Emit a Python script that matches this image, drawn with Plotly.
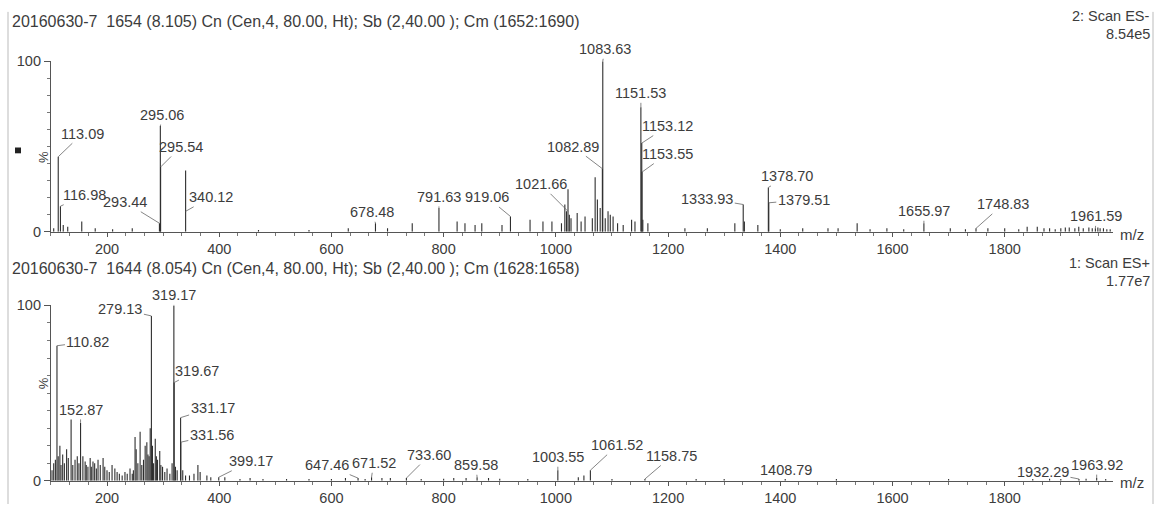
import plotly.graph_objects as go

W, H = 1157, 512

# ---------------- data ----------------
# Top panel: 2: Scan ES-  (m/z, relative intensity %)
top_mz = [105, 113.09, 116.98, 122, 130, 155, 179, 210, 245, 293.44, 295.06, 295.54, 340.12,
          470, 560, 630, 678.48, 700, 744, 791.63, 824, 838, 856, 868, 904, 919.06, 954, 977, 993,
          1010, 1016, 1019, 1021.66, 1024, 1027, 1038, 1045, 1052, 1065, 1070, 1074, 1079, 1082.89,
          1083.63, 1088, 1093, 1097, 1102, 1110, 1120, 1135, 1141, 1151.53, 1153.12, 1153.55, 1155,
          1164, 1230, 1270, 1319, 1333.93, 1336, 1360, 1378.70, 1379.51, 1400, 1440, 1485, 1503,
          1537, 1560, 1590, 1620, 1655.97, 1703, 1730, 1748.83, 1770, 1800, 1825, 1840, 1858, 1870,
          1880, 1890, 1900, 1908, 1915, 1925, 1932, 1940, 1950, 1956, 1961.59, 1966, 1970, 1976,
          1982, 1988]
top_int = [2, 44, 15, 4, 3, 6, 2, 1.5, 2, 5, 62, 38, 36,
           1, 1, 2, 5, 2, 5, 14, 6, 5, 4, 5, 4, 9, 7, 6, 6,
           5, 16, 12, 25, 10, 8, 11, 6, 9, 8, 32, 19, 14, 37,
           100, 8, 12, 10, 9, 5, 4, 7, 6, 73, 52, 35, 7,
           5, 2, 2, 5, 16, 6, 4, 26, 17, 1.5, 2, 2, 2,
           5, 1.5, 2, 1.5, 5, 2, 1.5, 2, 2, 2, 1.5, 3, 3, 2,
           2, 1.5, 2, 2.5, 2.5, 2, 3, 2, 2.5, 2, 2, 2.5, 2, 2,
           1.5, 1.5]
top_labels = [113.09, 116.98, 293.44, 295.06, 295.54, 340.12, 678.48, 791.63, 919.06,
              1021.66, 1082.89, 1083.63, 1151.53, 1153.12, 1153.55, 1333.93, 1378.70,
              1379.51, 1655.97, 1748.83, 1961.59]

# Bottom panel: 1: Scan ES+
bot_mz = [102, 105, 108, 110.82, 113, 116, 118, 121, 124, 128, 131, 136, 139, 143, 147, 150,
          152.87, 157, 161, 163, 166, 170, 172, 175, 178, 181, 184, 188, 193, 196, 200, 204,
          209, 214, 218, 222, 227, 232, 236, 241, 245, 247, 250, 252, 255, 259, 262, 265, 268,
          271, 273, 275, 277, 279.13, 281, 283, 286, 288, 290, 294, 296, 299, 303, 307, 312,
          316, 319.17, 319.67, 322, 325, 331.17, 331.56, 335, 340, 347, 355, 362, 366, 378,
          385, 399.17, 410, 437, 455, 478, 520, 560, 600, 625, 647.46, 660, 671.52, 690, 705,
          733.60, 760, 800, 818, 840, 859.58, 880, 900, 950, 1003.55, 1040, 1050, 1061.52,
          1100, 1158.75, 1250, 1300, 1408.79, 1500, 1700, 1850, 1880, 1900, 1932.29, 1945,
          1963.92, 1980]
bot_int = [6, 10, 12, 77, 14, 20, 9, 15, 10, 18, 13, 35, 9, 12, 14, 10,
           33, 14, 11, 9, 8, 13, 8, 11, 10, 7, 12, 9, 13, 8, 6, 5,
           9, 7, 5, 4, 3, 5, 4, 7, 4, 6, 25, 18, 10, 28, 9, 12, 20,
           22, 15, 14, 30, 94, 20, 10, 24, 14, 12, 17, 9, 8, 5, 7, 4,
           10, 100, 56, 8, 6, 36, 22, 6, 3, 3, 4, 9, 5, 3,
           2, 2, 2, 1, 1.5, 1, 1, 1, 1, 1.5, 1.5, 1, 2, 1.5, 1.5,
           1.5, 1, 1.2, 1.5, 1.5, 2, 1.5, 1.2, 1, 6, 2, 3, 6,
           1, 1, 1, 1, 1, 1, 1, 1, 1.2, 1, 1, 1.2,
           1.5, 1]
bot_labels = [110.82, 152.87, 279.13, 319.17, 319.67, 331.17, 331.56, 399.17, 647.46,
              671.52, 733.60, 859.58, 1003.55, 1061.52, 1158.75, 1408.79, 1932.29, 1963.92]

x_ticks = [200, 400, 600, 800, 1000, 1200, 1400, 1600, 1800]

top_title = "20160630-7  1654 (8.105) Cn (Cen,4, 80.00, Ht); Sb (2,40.00 ); Cm (1652:1690)"
bot_title = "20160630-7  1644 (8.054) Cn (Cen,4, 80.00, Ht); Sb (2,40.00 ); Cm (1628:1658)"
top_scan, top_tic = "2: Scan ES-", "8.54e5"
bot_scan, bot_tic = "1: Scan ES+", "1.77e7"

# ---------------- label placement (pixel offsets from peak tip; layout only) ----------------
top_off = {113.09: (24, -23, None), 116.98: (24, -11, None), 293.44: (-34, -21, None),
           295.06: (2, -11, None), 295.54: (20, -20, None), 340.12: (25, -14, 12),
           678.48: (-3, -11, None), 791.63: (0, -11, None), 919.06: (-23, -19, None),
           1021.66: (-27, -27, 12), 1082.89: (-29, -22, None), 1083.63: (2, -12, None),
           1151.53: (0, -14, None), 1153.12: (26, -17, None), 1153.55: (25, -18, None),
           1333.93: (-36, -6, None), 1378.70: (19, -11, None), 1379.51: (35, -3, None),
           1655.97: (0, -12, None), 1748.83: (27, -24, None), 1961.59: (1, -12, None)}
bot_off = {110.82: (31, -4, None), 152.87: (0, -13, None), 279.13: (-31, -7, None),
           319.17: (0, -10, None), 319.67: (23, -12, None), 331.17: (32, -10, None),
           331.56: (31, -7, None), 399.17: (32, -16, None), 647.46: (-31, -13, None),
           671.52: (2, -14, None), 733.60: (23, -23, None), 859.58: (-1, -12, None),
           1003.55: (0, -13, None), 1061.52: (27, -25, None), 1158.75: (27, -23, None),
           1408.79: (1, -9, None), 1932.29: (-36, -7, None), 1963.92: (0, -13, None)}

FONT = "Liberation Sans, Arial, sans-serif"
TXT = "#3c3c3c"
LINE = "#2e2e2e"


def px(x):
    return x / W


def py(y):
    return 1 - y / H


def sticks(mz, inten):
    xs, ys = [], []
    for m, h in zip(mz, inten):
        xs += [m, m, None]
        ys += [0, h, None]
    return xs, ys


fig = go.Figure()
tx, ty = sticks(top_mz, top_int)
fig.add_trace(go.Scatter(x=tx, y=ty, mode="lines", line=dict(color=LINE, width=1.1),
                         xaxis="x", yaxis="y", hoverinfo="skip", showlegend=False))
bx, by = sticks(bot_mz, bot_int)
fig.add_trace(go.Scatter(x=bx, y=by, mode="lines", line=dict(color=LINE, width=1.1),
                         xaxis="x2", yaxis="y2", hoverinfo="skip", showlegend=False))

xdom = [px(50.9), px(1113)]
xr = [100, 1993]
common_x = dict(range=xr, domain=xdom, showgrid=False, zeroline=False, showline=True,
                linecolor="#555", linewidth=1, ticks="outside", ticklen=4, tickcolor="#555",
                tickvals=x_ticks, tickfont=dict(family=FONT, size=14.5, color=TXT),
                minor=dict(dtick=200 / 6, tick0=0, ticklen=3, ticks="outside", tickcolor="#777"))
common_y = dict(range=[0, 100], showgrid=False, zeroline=False, showline=True,
                linecolor="#555", linewidth=1, ticks="outside", ticklen=6, tickcolor="#555",
                tickvals=[0, 100], tickfont=dict(family=FONT, size=14.5, color=TXT),
                minor=dict(dtick=10, ticklen=3, ticks="outside", tickcolor="#777"))

fig.update_layout(
    width=W, height=H, autosize=False,
    margin=dict(l=0, r=0, t=0, b=0),
    paper_bgcolor="white", plot_bgcolor="white",
    xaxis=dict(common_x, anchor="y"),
    yaxis=dict(common_y, domain=[py(231), py(55)], anchor="x"),
    xaxis2=dict(common_x, anchor="y2"),
    yaxis2=dict(common_y, domain=[py(488), py(307)], anchor="x2"),
)

ann = []


def add_labels(labels, mz, inten, off, xref, yref):
    for m in labels:
        h = inten[mz.index(m)]
        dx, dy, tgt = off[m]
        ann.append(dict(x=m, y=tgt if tgt is not None else h, xref=xref, yref=yref,
                        text=f"{m:.2f}", showarrow=True, arrowhead=0, arrowwidth=0.8,
                        arrowcolor="#666", ax=dx, ay=dy, standoff=0,
                        font=dict(family=FONT, size=14.5, color=TXT)))


add_labels(top_labels, top_mz, top_int, top_off, "x", "y")
add_labels(bot_labels, bot_mz, bot_int, bot_off, "x2", "y2")


def ptext(text, x, y, xanchor="left", size=15.5, yanchor="middle", angle=0, pad=1):
    ann.append(dict(text=text, x=px(x), y=py(y), xref="paper", yref="paper",
                    xanchor=xanchor, yanchor=yanchor, showarrow=False, textangle=angle,
                    borderpad=pad, font=dict(family=FONT, size=size, color=TXT)))


ptext(top_title, 10, 14, size=16)
ptext(top_scan, 1151, 18, "right", 14.5, "bottom", pad=0)
ptext(top_tic, 1151, 18, "right", 14.5, "top", pad=0)
ptext(bot_title, 10, 269, size=16)
ptext(bot_scan, 1151, 273, "right", 14.5, "bottom", pad=0)
ptext(bot_tic, 1151, 273, "right", 14.5, "top", pad=0)
ptext("m/z", 1118, 234, "left", 15)
ptext("m/z", 1118, 490, "left", 15)
ann.append(dict(text="%", x=px(34), y=py(146), xref="paper", yref="paper", showarrow=False,
                textangle=-90, font=dict(family=FONT, size=13, color=TXT)))
ann.append(dict(text="%", x=px(34), y=py(396), xref="paper", yref="paper", showarrow=False,
                textangle=-90, font=dict(family=FONT, size=13, color=TXT)))
fig.update_layout(annotations=ann)

fig.update_layout(shapes=[
    dict(type="rect", xref="paper", yref="paper", x0=px(15), x1=px(21), y0=py(150), y1=py(144),
         fillcolor="#222", line=dict(width=0)),
    dict(type="line", xref="paper", yref="paper", x0=px(8), x1=px(8), y0=0, y1=py(4),
         line=dict(color="#bbb", width=1)),
    dict(type="line", xref="paper", yref="paper", x0=px(1153), x1=px(1153), y0=0, y1=py(4),
         line=dict(color="#bbb", width=1)),
])

fig.write_html("out.html")
